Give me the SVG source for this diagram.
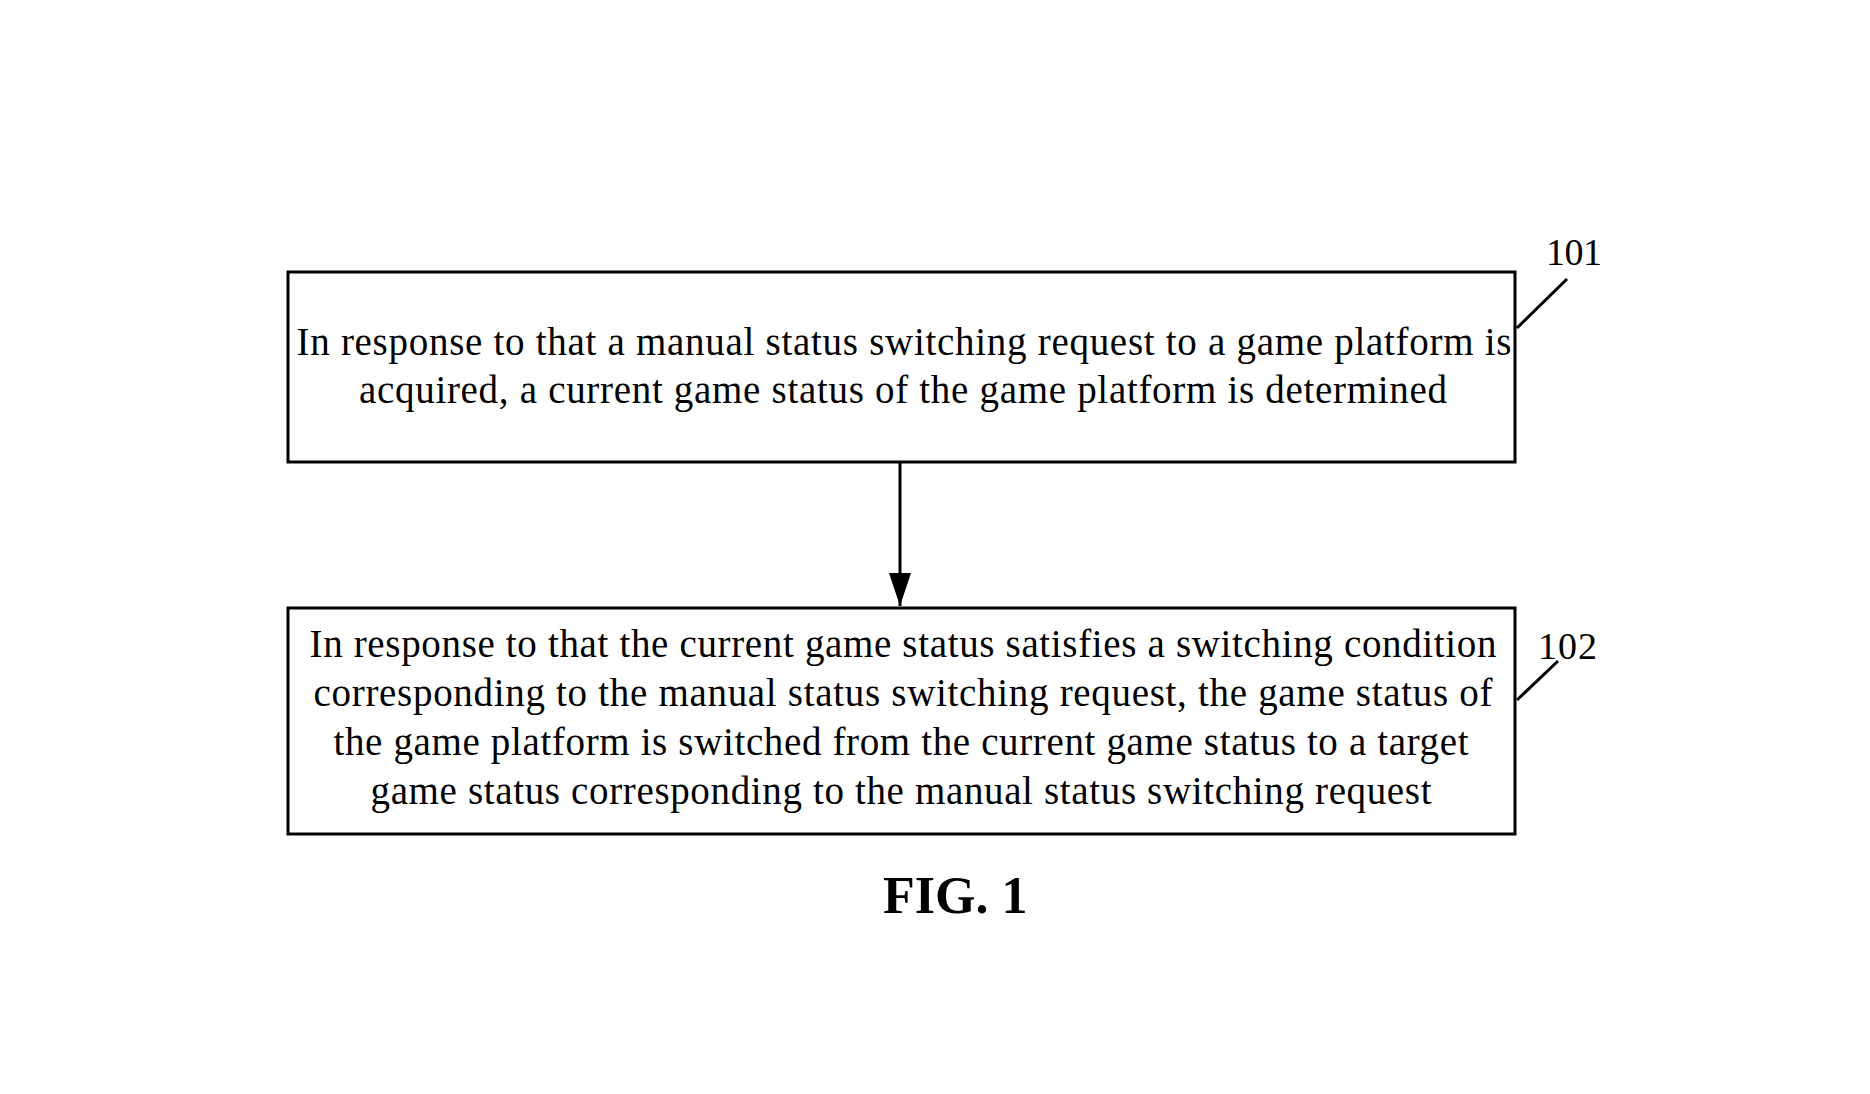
<svg xmlns="http://www.w3.org/2000/svg" width="1870" height="1094" viewBox="0 0 1870 1094">
<style>
.box{fill:#fff;stroke:#000;stroke-width:3}
.t{font-family:"Liberation Serif","Times New Roman",serif;font-size:39px;fill:#000;text-anchor:middle}
.lbl{font-family:"Liberation Serif","Times New Roman",serif;font-size:38px;fill:#000}
.ln{stroke:#000;stroke-width:3;fill:none}
</style>
<defs>
<marker id="arr" markerWidth="33" markerHeight="22" refX="33" refY="11" orient="auto" markerUnits="userSpaceOnUse" viewBox="0 0 33 22">
<path d="M0,0 L33,11 L0,22 Z" fill="#000"/>
</marker>
</defs>
<rect width="1870" height="1094" fill="#fff"/>
<g id="connectors">
<line class="ln" x1="900" y1="463" x2="900" y2="606" marker-end="url(#arr)"/>
<line class="ln" x1="1517" y1="328" x2="1567" y2="279"/>
<line class="ln" x1="1517" y1="700" x2="1558" y2="661"/>
</g>
<g id="node101">
<rect class="box" x="288" y="272" width="1227" height="190"/>
<text class="t" x="904" y="355" textLength="1215" lengthAdjust="spacing">In response to that a manual status switching request to a game platform is</text>
<text class="t" x="903" y="403" textLength="1088" lengthAdjust="spacing">acquired, a current game status of the game platform is determined</text>
<text class="lbl" x="1546" y="265" textLength="56">101</text>
</g>
<g id="node102">
<rect class="box" x="288" y="608" width="1227" height="226"/>
<text class="t" x="903" y="657" textLength="1187" lengthAdjust="spacing">In response to that the current game status satisfies a switching condition</text>
<text class="t" x="903" y="706" textLength="1179" lengthAdjust="spacing">corresponding to the manual status switching request, the game status of</text>
<text class="t" x="901" y="755" textLength="1135" lengthAdjust="spacing">the game platform is switched from the current game status to a target</text>
<text class="t" x="901" y="804" textLength="1061" lengthAdjust="spacing">game status corresponding to the manual status switching request</text>
<text class="lbl" x="1538" y="659" textLength="59">102</text>
</g>
<text x="883" y="913" font-family="Liberation Serif,'Times New Roman',serif" font-size="52" font-weight="bold" fill="#000">FIG. 1</text>
</svg>
